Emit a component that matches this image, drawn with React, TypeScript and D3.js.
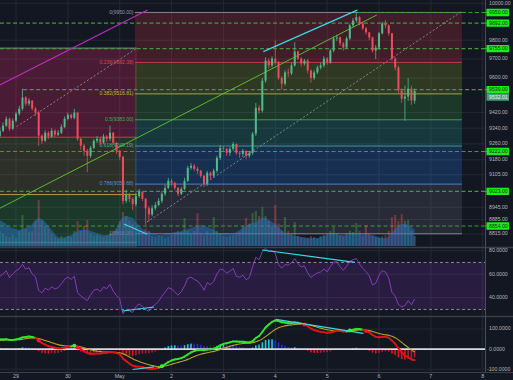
import React from "react";
import * as d3 from "d3";

// 90-minute candles starting 2020-04-28 16:30 UTC
const closes = [
  9327, 9353, 9388, 9337, 9378, 9414, 9440, 9498, 9466, 9482,
  9440, 9420, 9302, 9276, 9317, 9297, 9327, 9307, 9317, 9347,
  9388, 9409, 9393, 9420, 9286, 9251, 9225, 9200, 9240, 9276,
  9286, 9266, 9297, 9286, 9317, 9266, 9225, 9195, 8976, 9006,
  8986, 8960, 9000, 9020, 8986, 8940, 8910, 8940, 8956, 8976,
  9011, 9040, 9075, 9065, 9040, 9011, 9035, 9075, 9140, 9150,
  9135, 9125, 9100, 9060, 9115, 9100, 9125, 9190, 9240, 9235,
  9215, 9235, 9260, 9215, 9210, 9225, 9200, 9215, 9312, 9445,
  9430, 9586, 9692, 9666, 9702, 9682, 9600, 9570, 9629, 9624,
  9666, 9740, 9702, 9676, 9692, 9639, 9600, 9629, 9655, 9666,
  9702, 9682, 9745, 9810, 9815, 9783, 9761, 9810, 9880, 9907,
  9924, 9891, 9864, 9842, 9815, 9745, 9761, 9837, 9891, 9880,
  9837, 9702, 9655, 9534, 9492, 9503, 9544, 9482, 9532.01,
];
const highs = [
  9345, 9370, 9400, 9395, 9390, 9425, 9455, 9544, 9505, 9495,
  9485, 9450, 9430, 9310, 9330, 9325, 9340, 9335, 9330, 9360,
  9400, 9420, 9415, 9440, 9425, 9290, 9260, 9235, 9250, 9285,
  9300, 9295, 9310, 9305, 9353, 9320, 9270, 9230, 9200, 9030,
  9015, 8995, 9015, 9035, 9025, 8990, 8950, 8955, 8970, 8990,
  9025, 9055, 9090, 9085, 9070, 9045, 9045, 9090, 9150, 9165,
  9160, 9145, 9130, 9105, 9125, 9120, 9135, 9200, 9255, 9250,
  9240, 9245, 9270, 9262, 9225, 9235, 9228, 9225, 9320, 9470,
  9460, 9600, 9710, 9705, 9715, 9799, 9690, 9610, 9640, 9650,
  9680, 9790, 9745, 9710, 9700, 9700, 9645, 9640, 9665, 9680,
  9715, 9710, 9755, 9820, 9830, 9820, 9790, 9820, 9890, 9920,
  9950, 9930, 9900, 9870, 9845, 9820, 9775, 9845, 9900, 9910,
  9885, 9840, 9710, 9665, 9545, 9560, 9600, 9560, 9545,
];
const lows = [
  9290, 9320, 9345, 9325, 9330, 9370, 9405, 9430, 9455, 9455,
  9430, 9405, 9250, 9260, 9270, 9285, 9290, 9295, 9300, 9310,
  9340, 9380, 9385, 9385, 9275, 9230, 9200, 9118, 9190, 9235,
  9265, 9255, 9260, 9270, 9275, 9255, 9210, 9180, 8960, 8965,
  8970, 8930, 8950, 8990, 8975, 8860, 8875, 8900, 8930, 8950,
  8965, 9000, 9035, 9050, 9030, 9000, 9005, 9030, 9070, 9130,
  9125, 9110, 9090, 9045, 9050, 9085, 9090, 9115, 9180, 9220,
  9200, 9200, 9225, 9205, 9190, 9195, 9185, 9190, 9205, 9300,
  9415, 9420, 9575, 9650, 9655, 9670, 9590, 9540, 9560, 9605,
  9615, 9660, 9695, 9660, 9665, 9625, 9575, 9590, 9620, 9645,
  9655, 9670, 9675, 9735, 9795, 9770, 9745, 9755, 9800, 9870,
  9895, 9880, 9855, 9830, 9800, 9735, 9700, 9750, 9830, 9865,
  9825, 9690, 9640, 9520, 9470, 9378, 9480, 9460, 9465,
];
const firstOpen = 9300;
const volumes = [
  300, 250, 200, 180, 220, 160, 300, 620, 350, 280,
  300, 500, 920, 500, 400, 350, 250, 180, 150, 200,
  160, 200, 180, 300, 500, 300, 400, 520, 250, 200,
  220, 200, 180, 220, 260, 300, 350, 500, 680, 600,
  500, 450, 400, 300, 250, 350, 300, 200, 180, 220,
  200, 150, 180, 220, 250, 300, 280, 560, 300, 250,
  300, 660, 250, 220, 300, 250, 580, 300, 250, 200,
  180, 200, 220, 250, 280, 400, 560, 450, 660, 700,
  600, 780, 600, 500, 400, 820, 450, 300, 580, 300,
  250, 480, 200, 180, 150, 160, 200, 180, 150, 200,
  220, 250, 300, 380, 250, 220, 200, 260, 300, 280,
  460, 300, 200, 420, 250, 200, 180, 160, 200, 220,
  300, 580, 620, 500, 640, 500, 520, 300, 200,
];
const volumeMA = [
  520, 480, 440, 380, 360, 340, 320, 340, 360, 400,
  440, 520, 560, 540, 480, 400, 320, 240, 180, 160,
  180, 200, 220, 260, 300, 320, 320, 320, 300, 280,
  260, 240, 220, 220, 220, 260, 360, 480, 580, 600,
  580, 560, 480, 400, 340, 300, 280, 260, 240, 220,
  220, 240, 240, 260, 280, 280, 300, 320, 340, 360,
  380, 400, 420, 400, 380, 360, 320, 280, 240, 240,
  240, 260, 260, 280, 320, 360, 400, 440, 460, 480,
  520, 560, 560, 520, 480, 440, 380, 320, 260, 240,
  220, 200, 200, 180, 180, 160, 160, 160, 160, 180,
  200, 220, 240, 240, 220, 220, 220, 220, 240, 240,
  260, 260, 240, 240, 220, 220, 200, 180, 160, 160,
  200, 280, 340, 400, 440, 440, 420, 380, 320,
];
// indicator state carried in from the candles before the visible range
const emaSeeds = [9318, 9266]; // EMA12, EMA26
const signalSeed = 42;
const rsiSeed = 56;

const dayLabels = ["29", "30", "May", "2", "3", "4", "5", "6", "7", "8"];
const priceTicks = [10000, 9800, 9700, 9600, 9420, 9340, 9260, 9180, 9105, 8945, 8885, 8815];
const levelPrices = [9950, 9892, 9755, 9539, 9222, 9023, 8854];
const levelStarts = [110.5, -2, -2, 7.2, -2, -2, -2];
const fibRatios = [0, 0.236, 0.382, 0.5, 0.618, 0.786, 1];
const rightFib = [9950, 8816];
const rightFibSpan = [41.7, 142.6];
const leftFib = [9758, 7792];
const leftFibSpan = [-2, 42.25];
const rsiTicks = [80, 60, 40];
const rsiBands = [70, 30];
const macdTicks = [100, 0, -100];
const magentaTrend = [[0, 9563], [45.6, 9963]];
const greenTrend = [[0, 8940], [116.3, 9936]];
const leftFibDiag = [[5.2, 9348], [42.25, 9757]];
const rightFibDiag = [[45.4, 8873], [142.3, 9953]];
const priceDivHigh = [[81.3, 9739], [110.3, 9963]];
const priceDivLow = [[38.3, 8863], [45.5, 8814]];
const rsiDivLow = [[37.8, 28.7], [47.6, 32.1]];
const rsiDivHigh = [[81, 80.6], [109.6, 70.1]];
const macdDivLow = [[41, -101], [47.6, -88]];
const macdDivHigh = [[85.2, 148], [112.2, 78]];

const W = 513;
const H = 380;
const PLOT_R = 485;
const BG = "#131722";
const GRID = "#252934";
const UP = "#53b987";
const DOWN = "#eb4d5c";
const FONT = "'Liberation Sans', Arial, sans-serif";
const fibLineColors = ["#9598a1", "#e0404f", "#c9b53a", "#4caf50", "#3fb0a8", "#5b8fd0", "#9598a1"];
const fibFills = [
  "rgba(242,54,69,0.2)",
  "rgba(160,190,40,0.2)",
  "rgba(60,190,80,0.2)",
  "rgba(38,190,170,0.2)",
  "rgba(41,140,255,0.22)",
  "rgba(140,145,160,0.17)",
];
const leftFibFills = [
  "rgba(240,40,110,0.25)",
  "rgba(150,150,70,0.2)",
  "rgba(60,190,80,0.2)",
  "rgba(38,190,170,0.2)",
  "rgba(41,140,255,0.22)",
  "rgba(140,145,160,0.17)",
];

function ema(arr: number[], n: number, start: number) {
  const a = 2 / (n + 1);
  const out: number[] = [];
  let prev = start;
  for (let i = 0; i < arr.length; i++) {
    prev = a * arr[i] + (1 - a) * prev;
    out.push(prev);
  }
  return out;
}

export default function App() {
  const N = closes.length;
  const t0 = Date.UTC(2020, 3, 28, 16, 30);
  const step = 90 * 60 * 1000;
  const xTime = d3
    .scaleTime()
    .domain([new Date(Date.UTC(2020, 3, 29)), new Date(Date.UTC(2020, 4, 8))])
    .range([16, 482.7]);
  const xi = (i: number) => xTime(new Date(t0 + i * step));
  const y = d3.scaleLog().domain([10000, 8815]).range([3.3, 234]);
  const yVol = d3.scaleLinear().domain([0, 1000]).range([246, 196]);
  const yRsi = d3.scaleLinear().domain([80, 40]).range([250.7, 297.7]);
  const yMacd = d3.scaleLinear().domain([100, -100]).range([329, 369.3]);

  const opens = closes.map((c, i) => (i === 0 ? firstOpen : closes[i - 1]));

  // RSI (Wilder, 14)
  const diffs = closes.map((c, i) => c - opens[i]);
  const meanAbs = d3.mean(diffs.slice(0, 14).map(Math.abs)) as number;
  let ag = (meanAbs * rsiSeed) / 50 / 2;
  let al = (meanAbs * (100 - rsiSeed)) / 50 / 2;
  const rsi: number[] = [];
  diffs.forEach((d) => {
    ag = (ag * 13 + Math.max(d, 0)) / 14;
    al = (al * 13 + Math.max(-d, 0)) / 14;
    rsi.push(100 - 100 / (1 + ag / al));
  });

  // MACD 12/26/9
  const e12 = ema(closes, 12, emaSeeds[0]);
  const e26 = ema(closes, 26, emaSeeds[1]);
  const macd = e12.map((v, i) => v - e26[i]);
  const signal = ema(macd, 9, signalSeed);
  const hist = macd.map((v, i) => v - signal[i]);

  const days = d3.utcDay.range(new Date(Date.UTC(2020, 3, 29)), new Date(Date.UTC(2020, 4, 9)));

  const fibPrice = (f: number[], r: number) => f[0] - r * (f[0] - f[1]);

  const lineOf = (pts: number[][], yy: (v: number) => number) =>
    d3.line<number[]>().x((p) => xi(p[0])).y((p) => yy(p[1]))(pts) as string;

  const volArea = d3
    .area<number>()
    .x((_, i) => xi(i))
    .y0(246)
    .y1((v) => yVol(v))
    .curve(d3.curveMonotoneX)(volumeMA) as string;

  const rsiPath = d3
    .line<number>()
    .x((_, i) => xi(i))
    .y((v) => yRsi(v))(rsi) as string;

  const signalPath = d3
    .line<number>()
    .x((_, i) => xi(i))
    .y((v) => yMacd(v))
    .curve(d3.curveMonotoneX)(signal) as string;

  const renderFib = (f: number[], span: number[], fills: string[], withLabels: boolean, key: string) => {
    const x0 = xi(span[0]);
    const x1 = xi(span[1]);
    return (
      <g key={key}>
        {fibRatios.slice(0, -1).map((r, k) => {
          const ya = y(fibPrice(f, r));
          const yb = y(fibPrice(f, fibRatios[k + 1]));
          return <rect key={k} x={x0} y={ya} width={x1 - x0} height={yb - ya} fill={fills[k]} />;
        })}
        {fibRatios.map((r, k) => (
          <line key={"l" + k} x1={x0} x2={x1} y1={y(fibPrice(f, r))} y2={y(fibPrice(f, r))} stroke={fibLineColors[k]} strokeWidth={1} opacity={0.85} />
        ))}
        {withLabels &&
          fibRatios.map((r, k) => (
            <text key={"t" + k} x={x0 - 1.5} y={y(fibPrice(f, r))} textAnchor="end" dominantBaseline="middle" fontSize={5} fill={fibLineColors[k]} fontFamily={FONT}>
              {`${r}(${fibPrice(f, r).toFixed(2)})`}
            </text>
          ))}
      </g>
    );
  };

  const boxH = 7.4;
  const levelBoxes = levelPrices.map((p) => ({ p, yy: y(p) }));
  let lastY = y(closes[N - 1]);
  levelBoxes.forEach((b) => {
    if (Math.abs(b.yy - lastY) < boxH) lastY = b.yy + boxH;
  });

  return (
    <div style={{ position: "absolute", left: 0, top: 0, width: W, height: H, overflow: "hidden" }}>
      <svg width={W} height={H} style={{ display: "block", background: BG }} fontFamily={FONT}>
        <defs>
          <clipPath id="mainClip"><rect x={0} y={0} width={PLOT_R} height={247} /></clipPath>
          <clipPath id="rsiClip"><rect x={0} y={248} width={PLOT_R} height={68} /></clipPath>
          <clipPath id="macdClip"><rect x={0} y={317} width={PLOT_R} height={55} /></clipPath>
        </defs>
        <rect x={0} y={0} width={W} height={H} fill={BG} />

        {days.map((d, k) => (
          <line key={"vg" + k} x1={xTime(d)} x2={xTime(d)} y1={0} y2={372} stroke={GRID} strokeWidth={1} />
        ))}
        {priceTicks.map((p) => (
          <line key={"hg" + p} x1={0} x2={PLOT_R} y1={y(p)} y2={y(p)} stroke={GRID} strokeWidth={1} />
        ))}
        {rsiTicks.map((v) => (
          <line key={"rg" + v} x1={0} x2={PLOT_R} y1={yRsi(v)} y2={yRsi(v)} stroke={GRID} strokeWidth={1} />
        ))}
        {macdTicks.map((v) => (
          <line key={"mg" + v} x1={0} x2={PLOT_R} y1={yMacd(v)} y2={yMacd(v)} stroke={GRID} strokeWidth={1} />
        ))}

        <g clipPath="url(#mainClip)">
          {renderFib(leftFib, leftFibSpan, leftFibFills, false, "lf")}
          {renderFib(rightFib, rightFibSpan, fibFills, true, "rf")}

          {levelPrices.map((p, k) => (
            <line key={"lv" + k} x1={Math.max(0, xi(levelStarts[k]))} x2={PLOT_R} y1={y(p)} y2={y(p)} stroke="#3f9c3a" strokeWidth={1.1} strokeDasharray="4,2.5" />
          ))}

          <path d={lineOf(magentaTrend, y)} stroke="#c12bc4" strokeWidth={1.1} fill="none" />
          <path d={lineOf(greenTrend, y)} stroke="#5cb82e" strokeWidth={1} fill="none" />
          <path d={lineOf(leftFibDiag, y)} stroke="#8a8d96" strokeWidth={0.9} strokeDasharray="2,2" fill="none" />
          <path d={lineOf(rightFibDiag, y)} stroke="#8a8d96" strokeWidth={0.9} strokeDasharray="2,2" fill="none" />

          {volumes.map((v, i) => (
            <rect key={"v" + i} x={xi(i) - 1} y={yVol(v)} width={2} height={246 - yVol(v)} fill={closes[i] >= opens[i] ? "rgba(76,175,80,0.38)" : "rgba(239,83,80,0.38)"} />
          ))}
          <path d={volArea} fill="rgba(35,115,200,0.5)" />

          {closes.map((c, i) => {
            const o = opens[i];
            const hi = Math.max(highs[i], o, c);
            const lo = Math.min(lows[i], o, c);
            const col = c >= o ? UP : DOWN;
            const top = y(Math.max(o, c));
            const bot = y(Math.min(o, c));
            const cx = xi(i);
            return (
              <g key={"c" + i}>
                <line x1={cx} x2={cx} y1={y(hi)} y2={y(lo)} stroke={col} strokeWidth={0.8} />
                <rect x={cx - 1} y={top} width={2} height={Math.max(0.8, bot - top)} fill={col} />
              </g>
            );
          })}

          <path d={lineOf(priceDivHigh, y)} stroke="#3fd6e6" strokeWidth={1.2} fill="none" />
          <path d={lineOf(priceDivLow, y)} stroke="#3fd6e6" strokeWidth={1.2} fill="none" />
        </g>

        <g clipPath="url(#rsiClip)">
          <rect x={0} y={yRsi(rsiBands[0])} width={PLOT_R} height={yRsi(rsiBands[1]) - yRsi(rsiBands[0])} fill="rgba(150,60,220,0.17)" />
          {rsiBands.map((v) => (
            <line key={"rb" + v} x1={0} x2={PLOT_R} y1={yRsi(v)} y2={yRsi(v)} stroke="#9598a1" strokeWidth={0.9} strokeDasharray="3,2.5" />
          ))}
          <path d={rsiPath} stroke="#8e3fc0" strokeWidth={0.9} fill="none" />
          <path d={lineOf(rsiDivLow, yRsi)} stroke="#3fd6e6" strokeWidth={1.2} fill="none" />
          <path d={lineOf(rsiDivHigh, yRsi)} stroke="#3fd6e6" strokeWidth={1.2} fill="none" />
        </g>

        <g clipPath="url(#macdClip)">
          {hist.map((h, i) => {
            const prev = i === 0 ? signalSeed * 0 + h : hist[i - 1];
            let col;
            if (h >= 0) col = h >= prev ? "#1fc8e0" : "#2030d0";
            else col = h <= prev ? "#e01818" : "#a82030";
            const y0 = yMacd(0);
            const y1 = yMacd(h);
            return <rect key={"h" + i} x={xi(i) - 0.8} y={Math.min(y0, y1)} width={1.6} height={Math.abs(y1 - y0)} fill={col} />;
          })}
          <line x1={0} x2={PLOT_R} y1={yMacd(0)} y2={yMacd(0)} stroke="#d8dae0" strokeWidth={1.6} />
          <path d={signalPath} stroke="#b8a42a" strokeWidth={1.1} fill="none" />
          {macd.slice(1).map((m, k) => {
            const i = k + 1;
            return (
              <line key={"ml" + i} x1={xi(i - 1)} x2={xi(i)} y1={yMacd(macd[i - 1])} y2={yMacd(m)} stroke={m >= signal[i] ? "#2ee82e" : "#e01414"} strokeWidth={1.9} strokeLinecap="round" />
            );
          })}
          {hist.map((h, i) => {
            if (i === 0 || Math.sign(h) === Math.sign(hist[i - 1])) return null;
            return <circle key={"d" + i} cx={xi(i)} cy={yMacd(macd[i])} r={2} fill={h > 0 ? "#3cf03c" : "#f01c1c"} />;
          })}
          <path d={lineOf(macdDivLow, yMacd)} stroke="#3fd6e6" strokeWidth={1.2} fill="none" />
          <path d={lineOf(macdDivHigh, yMacd)} stroke="#3fd6e6" strokeWidth={1.2} fill="none" />
        </g>

        <line x1={0} x2={W} y1={247.5} y2={247.5} stroke="#3b3f4b" strokeWidth={1.5} />
        <line x1={0} x2={W} y1={316.5} y2={316.5} stroke="#3b3f4b" strokeWidth={1.5} />

        <line x1={PLOT_R + 0.5} x2={PLOT_R + 0.5} y1={0} y2={380} stroke="#4a4e59" strokeWidth={1} />
        {levelPrices.map((p) => (
          <line key={"ext" + p} x1={PLOT_R} x2={488} y1={y(p)} y2={y(p)} stroke="#3f9c3a" strokeWidth={1} />
        ))}
        {priceTicks.map((p) => (
          <text key={"pt" + p} x={489} y={y(p)} dominantBaseline="middle" fontSize={5.2} fill="#b2b5be">
            {p.toFixed(2)}
          </text>
        ))}
        {levelBoxes.map((b) => (
          <g key={"lb" + b.p}>
            <rect x={486.5} y={b.yy - boxH / 2} width={22.5} height={boxH} fill="#1eeb1e" rx={0.5} />
            <text x={489} y={b.yy + 0.2} dominantBaseline="middle" fontSize={5.2} fill="#14301a">
              {b.p.toFixed(2)}
            </text>
          </g>
        ))}
        <rect x={486.5} y={lastY - boxH / 2} width={22.5} height={boxH} fill="#4a9d7b" />
        <text x={489} y={lastY + 0.2} dominantBaseline="middle" fontSize={5.2} fill="#e8f5e9">
          {closes[N - 1].toFixed(2)}
        </text>
        {rsiTicks.map((v) => (
          <text key={"rt" + v} x={489} y={yRsi(v)} dominantBaseline="middle" fontSize={5.2} fill="#b2b5be">
            {v.toFixed(4)}
          </text>
        ))}
        {macdTicks.map((v) => (
          <text key={"mt" + v} x={v < 0 ? 487 : 489} y={yMacd(v)} dominantBaseline="middle" fontSize={5.2} fill="#b2b5be">
            {v.toFixed(4)}
          </text>
        ))}

        <rect x={0} y={372} width={W} height={8} fill={BG} />
        <line x1={0} x2={W} y1={372.5} y2={372.5} stroke="#3b3f4b" strokeWidth={1} />
        {days.map((d, k) => (
          <text key={"xl" + k} x={xTime(d)} y={377} textAnchor="middle" dominantBaseline="middle" fontSize={5.3} fill="#b2b5be">
            {dayLabels[k]}
          </text>
        ))}
      </svg>
    </div>
  );
}
